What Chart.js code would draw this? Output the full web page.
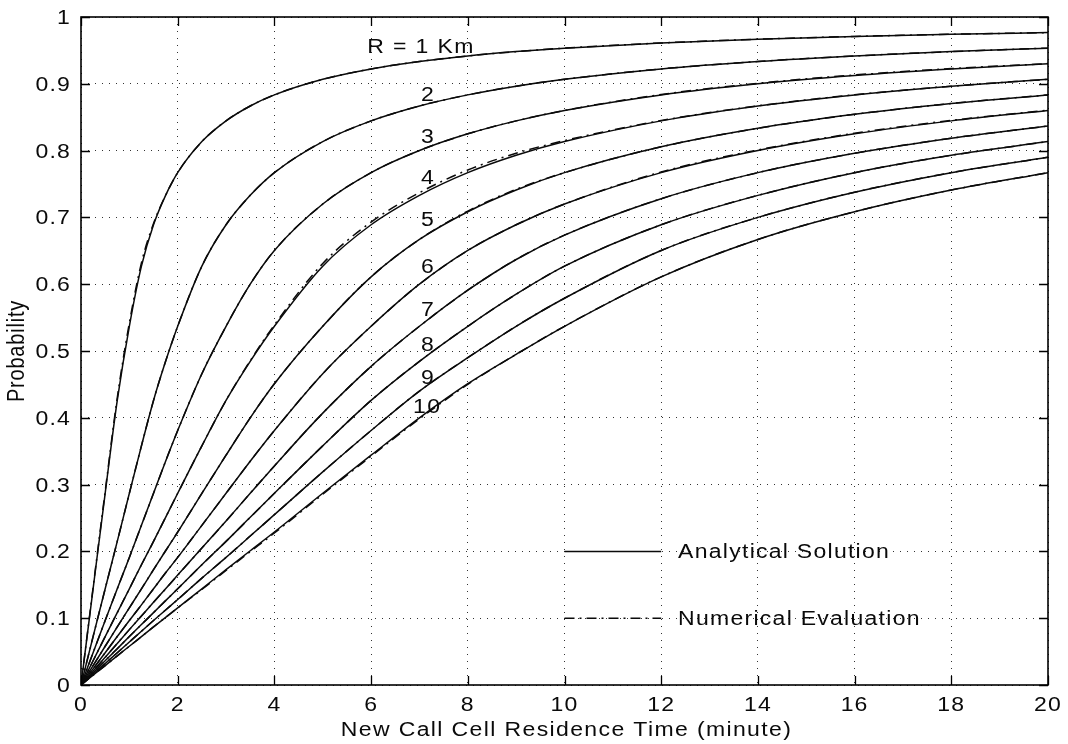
<!DOCTYPE html>
<html>
<head>
<meta charset="utf-8">
<title>New Call Cell Residence Time</title>
<script src="https://cdn.jsdelivr.net/npm/chart.js@4.4.1/dist/chart.umd.min.js"></script>
<style>
  html, body { margin: 0; padding: 0; background: #fff; }
  canvas { display: block; }
</style>
</head>
<body>
<canvas id="chart" width="1068" height="744"></canvas>
<script>
// Residence time samples (minutes)
const times = [0, 0.25, 0.5, 0.75, 1, 1.25, 1.5, 1.75, 2, 2.5, 3, 3.5, 4, 5, 6, 7, 8, 9, 10, 12, 14, 16, 18, 20];

// Cell radii (km)
const radii = [1, 2, 3, 4, 5, 6, 7, 8, 9, 10];

// Analytical solution, one array per radius
const solR1  = [0, 0.144, 0.287, 0.426, 0.537, 0.627, 0.689, 0.733, 0.767, 0.8135, 0.8445, 0.8668, 0.8834, 0.9067, 0.9223, 0.9334, 0.9417, 0.9482, 0.9534, 0.9611, 0.9667, 0.9709, 0.9741, 0.9767];
const solR2  = [0, 0.0725, 0.144, 0.215, 0.287, 0.358, 0.426, 0.4845, 0.537, 0.627, 0.689, 0.733, 0.767, 0.8135, 0.8445, 0.8668, 0.8834, 0.8964, 0.9067, 0.9223, 0.9334, 0.9417, 0.9482, 0.9534];
const solR3  = [0, 0.0483, 0.0965, 0.144, 0.191, 0.239, 0.287, 0.335, 0.381, 0.466, 0.537, 0.600, 0.6505, 0.720, 0.767, 0.8001, 0.8251, 0.8445, 0.8601, 0.8834, 0.9001, 0.9126, 0.9223, 0.9300];
const solR4  = [0, 0.0363, 0.0725, 0.1083, 0.144, 0.180, 0.215, 0.251, 0.287, 0.358, 0.426, 0.4845, 0.537, 0.627, 0.689, 0.733, 0.767, 0.793, 0.8135, 0.8445, 0.8668, 0.8834, 0.8964, 0.9067];
const solR5  = [0, 0.029, 0.058, 0.087, 0.1155, 0.144, 0.1727, 0.201, 0.229, 0.287, 0.344, 0.400, 0.451, 0.537, 0.611, 0.667, 0.7085, 0.741, 0.767, 0.8057, 0.8334, 0.8543, 0.8705, 0.8834];
const solR6  = [0, 0.0242, 0.0483, 0.0725, 0.0965, 0.120, 0.144, 0.168, 0.191, 0.239, 0.287, 0.335, 0.381, 0.466, 0.537, 0.600, 0.6505, 0.689, 0.720, 0.767, 0.8001, 0.8251, 0.8445, 0.8601];
const solR7  = [0, 0.0207, 0.0414, 0.0622, 0.0829, 0.1033, 0.1237, 0.144, 0.1645, 0.205, 0.2455, 0.287, 0.328, 0.407, 0.477, 0.537, 0.591, 0.637, 0.6735, 0.728, 0.767, 0.796, 0.8186, 0.8368];
const solR8  = [0, 0.0181, 0.0363, 0.0544, 0.0725, 0.0905, 0.1083, 0.1263, 0.144, 0.180, 0.215, 0.251, 0.287, 0.358, 0.426, 0.4845, 0.537, 0.585, 0.627, 0.689, 0.733, 0.767, 0.793, 0.8135];
const solR9  = [0, 0.0161, 0.0322, 0.0483, 0.0644, 0.0805, 0.0965, 0.1123, 0.128, 0.160, 0.191, 0.223, 0.255, 0.319, 0.381, 0.440, 0.490, 0.537, 0.579, 0.6505, 0.700, 0.7377, 0.767, 0.790];
const solR10 = [0, 0.0146, 0.029, 0.0437, 0.058, 0.0725, 0.087, 0.1012, 0.1155, 0.144, 0.1727, 0.201, 0.229, 0.287, 0.344, 0.400, 0.451, 0.495, 0.537, 0.611, 0.667, 0.7085, 0.741, 0.767];

// Numerical evaluation, one array per radius
const numR1  = [0, 0.146, 0.290, 0.430, 0.542, 0.632, 0.691, 0.733, 0.767, 0.8135, 0.8445, 0.8668, 0.8834, 0.9067, 0.9223, 0.9334, 0.9417, 0.9482, 0.9534, 0.9611, 0.9667, 0.9709, 0.9741, 0.9767];
const numR2  = [0, 0.0725, 0.144, 0.215, 0.287, 0.358, 0.426, 0.4845, 0.537, 0.627, 0.689, 0.733, 0.767, 0.8135, 0.8445, 0.8668, 0.8834, 0.8964, 0.9067, 0.9223, 0.9334, 0.9417, 0.9482, 0.9534];
const numR3  = [0, 0.0483, 0.0965, 0.144, 0.191, 0.239, 0.287, 0.335, 0.381, 0.466, 0.537, 0.600, 0.6505, 0.720, 0.767, 0.8001, 0.8251, 0.8445, 0.8601, 0.8840, 0.9008, 0.9132, 0.9228, 0.9303];
const numR4  = [0, 0.0363, 0.0725, 0.1083, 0.144, 0.180, 0.215, 0.251, 0.287, 0.358, 0.426, 0.4855, 0.539, 0.631, 0.693, 0.737, 0.771, 0.796, 0.8150, 0.8450, 0.8670, 0.8836, 0.8964, 0.9067];
const numR5  = [0, 0.029, 0.058, 0.087, 0.1155, 0.144, 0.1727, 0.201, 0.229, 0.287, 0.344, 0.400, 0.451, 0.537, 0.611, 0.667, 0.7095, 0.742, 0.767, 0.8057, 0.8334, 0.8543, 0.8705, 0.8834];
const numR6  = [0, 0.0242, 0.0483, 0.0725, 0.0965, 0.120, 0.144, 0.168, 0.191, 0.239, 0.287, 0.335, 0.381, 0.466, 0.537, 0.600, 0.6505, 0.689, 0.720, 0.768, 0.8010, 0.8260, 0.8452, 0.8605];
const numR7  = [0, 0.0207, 0.0414, 0.0622, 0.0829, 0.1033, 0.1237, 0.144, 0.1645, 0.205, 0.2455, 0.287, 0.328, 0.407, 0.477, 0.537, 0.591, 0.637, 0.6735, 0.728, 0.767, 0.796, 0.8186, 0.8368];
const numR8  = [0, 0.0181, 0.0363, 0.0544, 0.0725, 0.0905, 0.1083, 0.1263, 0.144, 0.180, 0.215, 0.251, 0.287, 0.358, 0.426, 0.4845, 0.537, 0.585, 0.627, 0.689, 0.733, 0.767, 0.793, 0.8135];
const numR9  = [0, 0.0161, 0.0322, 0.0483, 0.0644, 0.0805, 0.0965, 0.1123, 0.128, 0.160, 0.191, 0.223, 0.255, 0.319, 0.381, 0.440, 0.490, 0.537, 0.579, 0.6505, 0.700, 0.7377, 0.767, 0.790];
const numR10 = [0, 0.0146, 0.029, 0.0437, 0.058, 0.0725, 0.087, 0.1012, 0.1155, 0.143, 0.1715, 0.1995, 0.2275, 0.2855, 0.3425, 0.3985, 0.450, 0.495, 0.537, 0.611, 0.667, 0.7085, 0.741, 0.767];

// Tick values
const xTickValues = [0, 2, 4, 6, 8, 10, 12, 14, 16, 18, 20];
const yTickValues = [0, 0.1, 0.2, 0.3, 0.4, 0.5, 0.6, 0.7, 0.8, 0.9, 1];

// Curve labels
const curveLabelText = ['R = 1 Km', '2', '3', '4', '5', '6', '7', '8', '9', '10'];

const analytical = [solR1, solR2, solR3, solR4, solR5, solR6, solR7, solR8, solR9, solR10];
const numerical  = [numR1, numR2, numR3, numR4, numR5, numR6, numR7, numR8, numR9, numR10];

// Annotation placement, in axis units
const curveLabelAnchors = [
  [7.03, 0.954], [7.18, 0.883], [7.18, 0.819], [7.18, 0.759], [7.18, 0.695],
  [7.18, 0.625], [7.18, 0.561], [7.18, 0.508], [7.18, 0.459], [7.16, 0.416]
];
const legendItems = [
  { text: 'Analytical Solution',  y: 0.2, dash: [] },
  { text: 'Numerical Evaluation', y: 0.1, dash: [10, 5, 2, 5] }
];
const legendLineFrom = 10, legendLineTo = 12, legendTextAt = 12.35;

const INK = '#0a0a0a';
const FONT = '20px "Liberation Sans", Arial, sans-serif';
const STRETCH = 1.15;

function toPoints(values) {
  return times.map((t, i) => ({ x: t, y: values[i] }));
}

const datasets = [];
radii.forEach((r, i) => {
  datasets.push({
    label: 'Analytical R=' + r,
    data: toPoints(analytical[i]),
    borderColor: INK, borderWidth: 1.5,
    pointRadius: 0, cubicInterpolationMode: 'monotone', fill: false
  });
});
radii.forEach((r, i) => {
  datasets.push({
    label: 'Numerical R=' + r,
    data: toPoints(numerical[i]),
    borderColor: INK, borderWidth: 1.5, borderDash: [10, 5, 2, 5],
    pointRadius: 0, cubicInterpolationMode: 'monotone', fill: false
  });
});

// Horizontally widened text, the way the axis lettering is set
function drawText(ctx, text, x, y, align, spacing) {
  ctx.save();
  ctx.font = FONT;
  ctx.fillStyle = INK;
  ctx.textBaseline = 'middle';
  ctx.textAlign = 'left';
  ctx.letterSpacing = (spacing == null ? 1.2 : spacing) + 'px';
  const w = ctx.measureText(text).width * STRETCH;
  let left = x;
  if (align === 'right') left = x - w;
  else if (align === 'center') left = x - w / 2;
  ctx.translate(left, y);
  ctx.scale(STRETCH, 1);
  ctx.fillText(text, 0, 0);
  ctx.restore();
}

const decorPlugin = {
  id: 'decor',
  afterDatasetsDraw(chart) {
    const { ctx, chartArea: a, scales: { x, y } } = chart;
    ctx.save();

    // legend keys
    legendItems.forEach(item => {
      const py = y.getPixelForValue(item.y);
      ctx.beginPath();
      ctx.setLineDash(item.dash);
      ctx.strokeStyle = INK;
      ctx.lineWidth = 1.5;
      ctx.moveTo(x.getPixelForValue(legendLineFrom), py);
      ctx.lineTo(x.getPixelForValue(legendLineTo), py);
      ctx.stroke();
    });
    ctx.setLineDash([]);

    // frame
    ctx.strokeStyle = '#000';
    ctx.lineWidth = 1.6;
    ctx.strokeRect(a.left, a.top, a.right - a.left, a.bottom - a.top);

    // inward tick marks on all four sides
    ctx.lineWidth = 1.3;
    ctx.beginPath();
    xTickValues.forEach(v => {
      const px = Math.round(x.getPixelForValue(v)) + 0.5;
      ctx.moveTo(px, a.bottom); ctx.lineTo(px, a.bottom - 9);
      ctx.moveTo(px, a.top);    ctx.lineTo(px, a.top + 9);
    });
    yTickValues.forEach(v => {
      const py = Math.round(y.getPixelForValue(v)) + 0.5;
      ctx.moveTo(a.left, py);  ctx.lineTo(a.left + 9, py);
      ctx.moveTo(a.right, py); ctx.lineTo(a.right - 9, py);
    });
    ctx.stroke();
    ctx.restore();

    // tick labels
    xTickValues.forEach(v => {
      drawText(ctx, String(v), x.getPixelForValue(v), a.bottom + 20, 'center', 1);
    });
    yTickValues.forEach(v => {
      drawText(ctx, String(+v.toFixed(1)), a.left - 10, y.getPixelForValue(v) + 1.5, 'right', 1);
    });

    // axis titles
    drawText(ctx, 'New Call Cell Residence Time (minute)', (a.left + a.right) / 2 + 2, a.bottom + 45, 'center', 1.2);
    ctx.save();
    ctx.translate(18, (a.top + a.bottom) / 2);
    ctx.rotate(-Math.PI / 2);
    ctx.font = FONT;
    ctx.fillStyle = INK;
    ctx.textAlign = 'center';
    ctx.textBaseline = 'middle';
    ctx.letterSpacing = '0.8px';
    ctx.scale(1, STRETCH);
    ctx.fillText('Probability', 0, 0);
    ctx.restore();

    // curve labels
    curveLabelText.forEach((t, i) => {
      const [lx, ly] = curveLabelAnchors[i];
      drawText(ctx, t, x.getPixelForValue(lx), y.getPixelForValue(ly), 'center', 1.2);
    });

    // legend text
    legendItems.forEach(item => {
      drawText(ctx, item.text, x.getPixelForValue(legendTextAt), y.getPixelForValue(item.y) + 1, 'left', 1.1);
    });
  }
};

new Chart(document.getElementById('chart'), {
  type: 'line',
  data: { datasets },
  options: {
    responsive: false,
    animation: false,
    devicePixelRatio: 1,
    layout: { padding: { top: 17, right: 20, bottom: 0, left: 0 } },
    plugins: { legend: { display: false }, tooltip: { enabled: false } },
    scales: {
      x: {
        type: 'linear', min: 0, max: 20,
        ticks: { display: false, stepSize: 2 },
        grid: { color: 'rgba(0,0,0,0.8)', lineWidth: 1, drawTicks: false },
        border: { display: false, dash: [1, 6] },
        afterFit(scale) { scale.height = 59; }
      },
      y: {
        type: 'linear', min: 0, max: 1,
        ticks: { display: false, stepSize: 0.1 },
        grid: { color: 'rgba(0,0,0,0.8)', lineWidth: 1, drawTicks: false },
        border: { display: false, dash: [1, 6] },
        afterFit(scale) { scale.width = 81; }
      }
    }
  },
  plugins: [decorPlugin]
});
</script>
</body>
</html>
